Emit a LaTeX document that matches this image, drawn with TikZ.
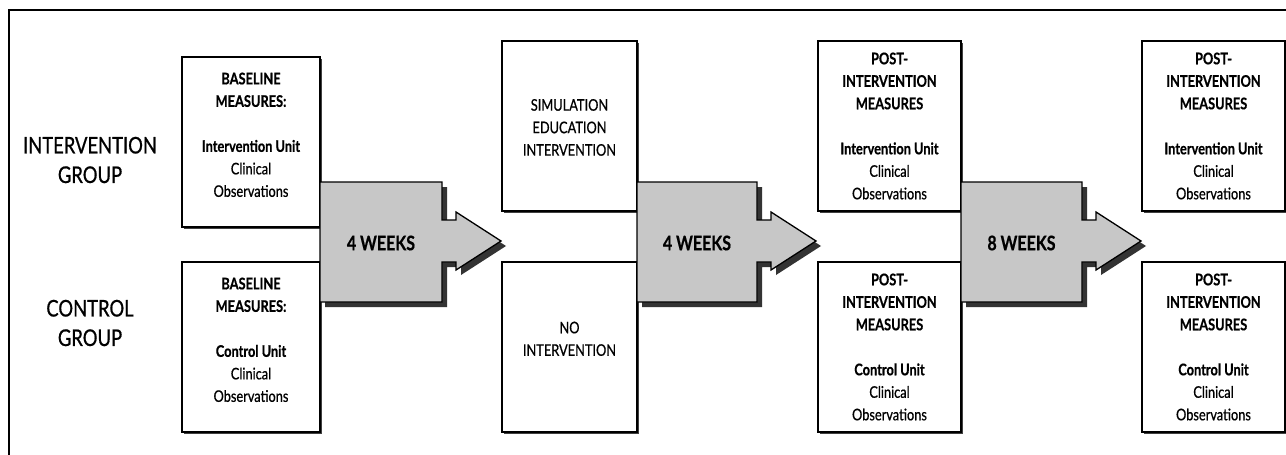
\documentclass[tikz,border=0pt]{standalone}
\usepackage{fontspec}
\setmainfont{Lato}[FakeStretch=0.8, UprightFeatures={FakeBold=0.7}, BoldFeatures={FakeBold=0.6}]
\usetikzlibrary{shadows}
\tikzset{
    measbox/.style={
        draw, line width=1.3pt, fill=white, align=center, inner sep=0pt,
        minimum height=170pt, font=\fontsize{16}{22.5}\selectfont,
        drop shadow={shadow xshift=1.5pt, shadow yshift=-1.5pt, fill=black!75, opacity=1}
    },
    grouplabel/.style={align=center, font=\fontsize{23}{29.5}\selectfont},
    weeklabel/.style={font=\bfseries\fontsize{20}{24}\selectfont},
    weekarrow/.style={fill=black!22, draw=black, line width=1.3pt}
}

\begin{document}
\begin{tikzpicture}[x=1pt, y=-1pt]
	\useasboundingbox (0,0) rectangle (1286,455);
	\fill[white] (0,0) rectangle (1286,455);
	\draw[line width=1.2pt] (9,10) rectangle (1300,470);
	
	% group labels
	\node[grouplabel] (intgrp) at (90,160) {INTERVENTION\\GROUP};
	\node[grouplabel] (ctlgrp) at (90,323) {CONTROL\\GROUP};
	
	% baseline
	\node[measbox, minimum width=138pt] (base-int) at (251,142)
		{\textbf{BASELINE}\\\textbf{MEASURES:}\\[22.5pt]\textbf{Intervention Unit}\\Clinical\\Observations\\[-8pt]\mbox{}};
	\node[measbox, minimum width=138pt] (base-ctl) at (251,347)
		{\textbf{BASELINE}\\\textbf{MEASURES:}\\[22.5pt]\textbf{Control Unit}\\Clinical\\Observations\\[-8pt]\mbox{}};
	
	% intervention
	\node[measbox, minimum width=135pt] (sim-int) at (569.5,126)
		{\mbox{}\\[-8pt]SIMULATION\\EDUCATION\\INTERVENTION};
	\node[measbox, minimum width=135pt] (sim-ctl) at (569.5,347)
		{NO\\INTERVENTION\\[-6pt]\mbox{}};
	
	% post measures
	\foreach \x/\n in {889.5/post1, 1213.5/post2} {
		\node[measbox, minimum width=143pt] (\n-int) at (\x,126)
			{\textbf{POST-}\\\textbf{INTERVENTION}\\\textbf{MEASURES}\\[22.5pt]\textbf{Intervention Unit}\\Clinical\\Observations};
		\node[measbox, minimum width=143pt] (\n-ctl) at (\x,347)
			{\textbf{POST-}\\\textbf{INTERVENTION}\\\textbf{MEASURES}\\[22.5pt]\textbf{Control Unit}\\Clinical\\Observations};
	}
	
	% time arrows
	\foreach \x/\w/\t [count=\i] in {320/122/4 WEEKS, 637/120/4 WEEKS, 961/121/8 WEEKS} {
		\fill[black!80, xshift=5pt, yshift=-5pt] (\x,182) -- ++(\w,0) -- ++(0,38) -- ++(14,0) -- ++(0,-8)
			-- ++(45,29) -- ++(-45,29) -- ++(0,-8) -- ++(-14,0) -- ++(0,40) -- ++(-\w,0) -- cycle;
		\draw[weekarrow] (\x,182) -- ++(\w,0) -- ++(0,38) -- ++(14,0) -- ++(0,-8)
			-- ++(45,29) -- ++(-45,29) -- ++(0,-8) -- ++(-14,0) -- ++(0,40) -- ++(-\w,0) -- cycle;
		\node[weeklabel] (wk\i) at (\x+\w/2,243) {\t};
	}
	
\end{tikzpicture}
\end{document}
